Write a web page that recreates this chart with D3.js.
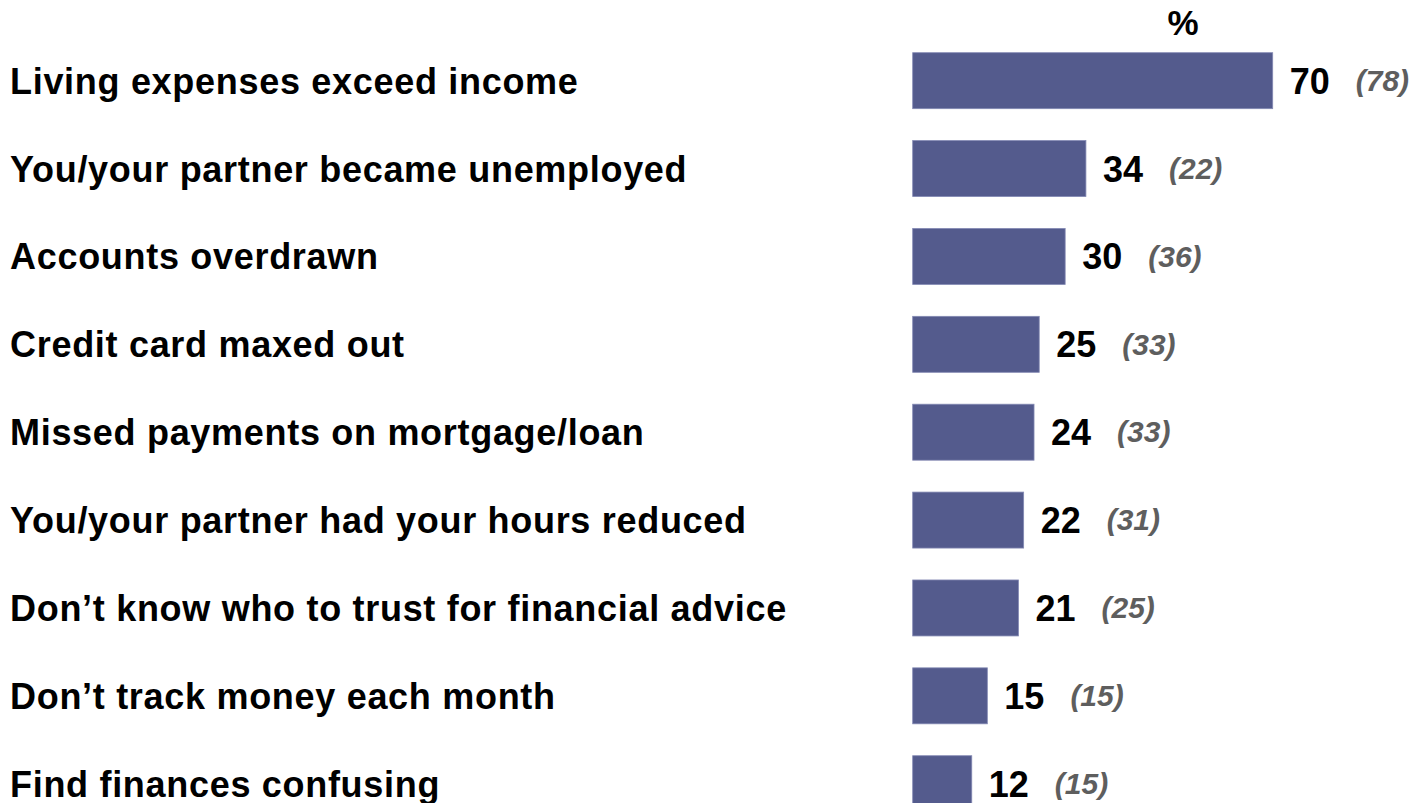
<!DOCTYPE html>
<html>
<head>
<meta charset="utf-8">
<script src="https://cdn.jsdelivr.net/npm/d3@7"></script>
<style>
  html, body { margin: 0; padding: 0; background: #ffffff; }
  svg { display: block; }
  text { font-family: "Liberation Sans", Arial, Helvetica, sans-serif; font-weight: bold; }
</style>
</head>
<body>
<svg id="chart" width="1418" height="803"></svg>
<script>
// Reasons given for financial difficulty, % (comparison figure in brackets)
const categories = [
  "Living expenses exceed income",
  "You/your partner became unemployed",
  "Accounts overdrawn",
  "Credit card maxed out",
  "Missed payments on mortgage/loan",
  "You/your partner had your hours reduced",
  "Don\u2019t know who to trust for financial advice",
  "Don\u2019t track money each month",
  "Find finances confusing"
];
const currentValues = [70, 34, 30, 25, 24, 22, 21, 15, 12];
const previousValues = [78, 22, 36, 33, 33, 31, 25, 15, 15];
const unitLabel = "%";

const svg = d3.select("#chart");

const x = d3.scaleLinear().domain([0, 70]).range([909.5, 1272.7]);
const y = d3.scaleBand()
  .domain(categories)
  .range([52.7, 811.7])
  .paddingInner(0.363)
  .paddingOuter(0);

const rows = categories.map((c, i) => ({ c, v: currentValues[i], p: previousValues[i] }));

// header
svg.append("text")
  .attr("x", 1183)
  .attr("y", 35)
  .attr("text-anchor", "middle")
  .attr("font-size", 35)
  .attr("fill", "#000")
  .text(unitLabel);

// category labels
svg.selectAll("text.cat")
  .data(rows)
  .join("text")
  .attr("class", "cat")
  .attr("x", 10)
  .attr("y", d => y(d.c) + y.bandwidth() / 2)
  .attr("dy", "0.36em")
  .attr("font-size", 36)
  .attr("letter-spacing", 0.7)
  .attr("fill", "#000")
  .text(d => d.c);

// bars (small inset from the zero line)
const inset = 3.2;
svg.selectAll("rect.bar")
  .data(rows)
  .join("rect")
  .attr("class", "bar")
  .attr("x", x(0) + inset)
  .attr("y", d => y(d.c))
  .attr("width", d => x(d.v) - x(0) - inset)
  .attr("height", y.bandwidth())
  .attr("fill", "#545B8D")
  .attr("stroke", "#8389b3")
  .attr("stroke-width", 0.8);

// value labels
const vals = svg.selectAll("text.val")
  .data(rows)
  .join("text")
  .attr("class", "val")
  .attr("x", d => x(d.v) + 17)
  .attr("y", d => y(d.c) + y.bandwidth() / 2)
  .attr("dy", "0.36em")
  .attr("font-size", 36)
  .attr("fill", "#000")
  .text(d => d.v);

// bracketed comparison figures
const widths = [];
vals.each(function() { widths.push(this.getComputedTextLength()); });
svg.selectAll("text.prev")
  .data(rows)
  .join("text")
  .attr("class", "prev")
  .attr("x", (d, i) => x(d.v) + 17 + widths[i] + 26)
  .attr("y", d => y(d.c) + y.bandwidth() / 2)
  .attr("dy", "0.34em")
  .attr("font-size", 30)
  .attr("font-style", "italic")
  .attr("fill", "#5e5e5e")
  .text(d => "(" + d.p + ")");
</script>
</body>
</html>
